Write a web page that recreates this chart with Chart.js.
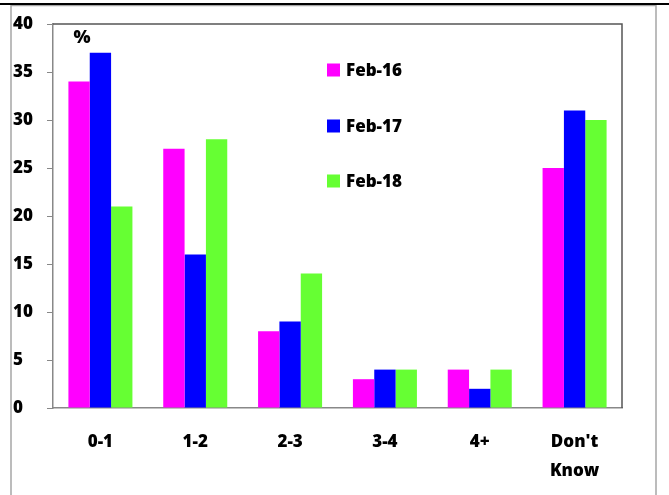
<!DOCTYPE html>
<html>
<head>
<meta charset="utf-8">
<script src="https://cdn.jsdelivr.net/npm/chart.js@4/dist/chart.umd.min.js"></script>
<style>
  html, body { margin: 0; padding: 0; background: #fff; }
  #wrap { position: relative; width: 669px; height: 495px; }
</style>
</head>
<body>
<div id="wrap"><canvas id="c" width="669" height="495"></canvas></div>
<script>
const categories = ["0-1", "1-2", "2-3", "3-4", "4+", ["Don't", "Know"]];
const seriesNames = ["Feb-16", "Feb-17", "Feb-18"];
const feb16 = [34, 27, 8, 3, 4, 25];
const feb17 = [37, 16, 9, 4, 2, 31];
const feb18 = [21, 28, 14, 4, 4, 30];
const yTicks = [0, 5, 10, 15, 20, 25, 30, 35, 40];
const colors = ["#ff00ff", "#0000ff", "#66ff33"];

const FONT = "'Open Sans', 'Liberation Sans', sans-serif";
const WEIGHT = 800;

// Outer frame: heavy rule across the top, light rules down both sides
const framePlugin = {
  id: 'frame',
  beforeDraw(chart) {
    const ctx = chart.ctx;
    ctx.save();
    ctx.fillStyle = '#fff';
    ctx.fillRect(0, 0, chart.width, chart.height);
    ctx.strokeStyle = '#a6a6a6';
    ctx.lineWidth = 1.5;
    ctx.beginPath();
    ctx.moveTo(11, chart.height); ctx.lineTo(11, 5.5);
    ctx.lineTo(656, 5.5); ctx.lineTo(656, chart.height);
    ctx.stroke();
    ctx.strokeStyle = '#000';
    ctx.lineWidth = 2;
    ctx.beginPath();
    ctx.moveTo(0, 4); ctx.lineTo(chart.width, 4);
    ctx.stroke();
    ctx.restore();
  },
  afterDatasetsDraw(chart) {
    const { ctx, chartArea: a } = chart;
    ctx.save();
    // top and right edges of the plot area
    ctx.strokeStyle = '#555';
    ctx.lineWidth = 1.5;
    ctx.beginPath();
    ctx.moveTo(a.left, a.top); ctx.lineTo(a.right, a.top); ctx.lineTo(a.right, a.bottom);
    ctx.stroke();
    // unit marker above the first group
    ctx.fillStyle = '#000';
    ctx.font = WEIGHT + ' 18px ' + FONT;
    ctx.textAlign = 'center';
    ctx.textBaseline = 'middle';
    const meta0 = chart.getDatasetMeta(0).data[0];
    ctx.fillText('%', meta0.x + 3, chart.scales.y.getPixelForValue(38.6));
    // legend inside the plot
    const lx = 327, rows = [70, 126, 181];
    ctx.textAlign = 'left';
    ctx.font = WEIGHT + ' 17px ' + FONT;
    chart.data.datasets.forEach((ds, i) => {
      ctx.fillStyle = ds.backgroundColor;
      ctx.fillRect(lx, rows[i] - 6.5, 13, 13);
      ctx.fillStyle = '#000';
      ctx.fillText(ds.label, lx + 19, rows[i] + 1);
    });
    ctx.restore();
  }
};

new Chart(document.getElementById('c'), {
  type: 'bar',
  data: {
    labels: categories,
    datasets: [feb16, feb17, feb18].map((d, i) => ({
      label: seriesNames[i],
      data: d,
      backgroundColor: colors[i],
      borderWidth: 0,
      categoryPercentage: 0.675,
      barPercentage: 1.0
    }))
  },
  options: {
    responsive: false,
    animation: false,
    devicePixelRatio: 1,
    layout: { padding: { left: 13, top: 24, right: 47, bottom: 0 } },
    plugins: { legend: { display: false }, tooltip: { enabled: false } },
    scales: {
      x: {
        grid: { display: false, drawTicks: false },
        border: { color: '#888', width: 1.5 },
        ticks: {
          color: '#000', padding: 19,
          font: { family: FONT, size: 17, weight: WEIGHT, lineHeight: 1.75 },
          maxRotation: 0
        },
        afterFit(s) { s.height = 87; }
      },
      y: {
        min: 0, max: 40,
        afterBuildTicks(s) { s.ticks = yTicks.map(v => ({ value: v })); },
        grid: { drawOnChartArea: false, drawTicks: true, tickLength: 6, color: '#888' },
        border: { color: '#888', width: 1.5 },
        ticks: {
          color: '#000', padding: 4, crossAlign: 'far',
          font: { family: FONT, size: 17, weight: WEIGHT }
        },
        afterFit(s) { s.width = 40; }
      }
    }
  },
  plugins: [framePlugin]
});
</script>
</body>
</html>
